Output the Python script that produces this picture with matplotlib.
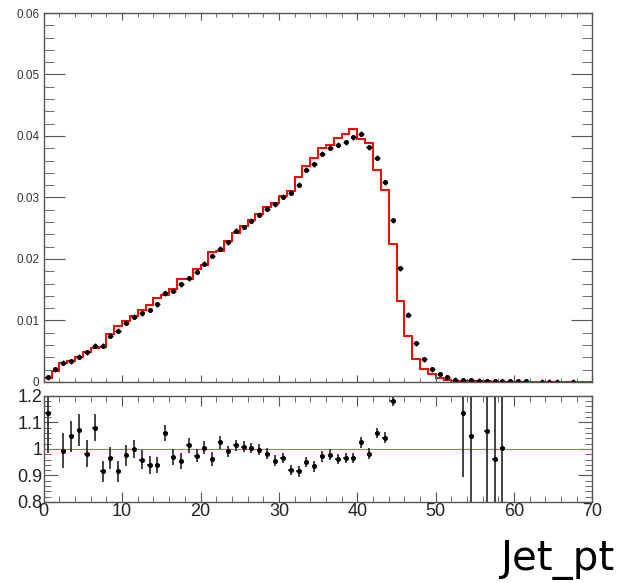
import numpy as np
import matplotlib
matplotlib.use('Agg')
import matplotlib.pyplot as plt
import matplotlib.ticker as mticker

nan = np.nan

# bin edges of Jet_pt (1 GeV bins from 0 to 70)
edges = np.arange(0, 71, 1)
centers = edges[:-1] + 0.5

# simulation histogram (red)
mc = [0.0007, 0.0018, 0.0031, 0.0034, 0.0040, 0.0048, 0.0055, 0.0057, 0.0078, 0.0091,
      0.0099, 0.0107, 0.0117, 0.0125, 0.0136, 0.0142, 0.0152, 0.0167, 0.0167, 0.0183,
      0.0190, 0.0212, 0.0213, 0.0229, 0.0242, 0.0253, 0.0263, 0.0273, 0.0284, 0.0291,
      0.0302, 0.0311, 0.0334, 0.0351, 0.0365, 0.0380, 0.0385, 0.0396, 0.0403, 0.0411,
      0.0395, 0.0388, 0.0345, 0.0312, 0.0224, 0.0131, 0.0074, 0.0037, 0.0021, 0.0013,
      0.0006, 0.0003, 0.0002, 0.0002, 0.0001, 0.0001, 0.0001, 0.00005, 0.00005, 0.00003,
      0.0, 0.0, 0.0, 0.0, 0.0, 0.0, 0.0, 0.0, 0.0, 0.0]

# data points (black)
data = [0.00076, 0.0021, 0.0031, 0.0034, 0.0041, 0.0048, 0.0059, 0.0059, 0.0075, 0.0083,
        0.0096, 0.0106, 0.0112, 0.0117, 0.0126, 0.0144, 0.0148, 0.0159, 0.0169, 0.0179,
        0.0192, 0.0205, 0.0217, 0.0227, 0.0246, 0.0252, 0.0262, 0.0272, 0.0282, 0.0289,
        0.0301, 0.0308, 0.0321, 0.0345, 0.0354, 0.0371, 0.0381, 0.0386, 0.0390, 0.0398,
        0.0404, 0.0382, 0.0365, 0.0325, 0.0263, 0.0185, 0.0109, 0.0063, 0.0037, 0.0021,
        0.0013, 0.0008, 0.0004, 0.0003, 0.0003, 0.0002, 0.0001, 0.0001, 0.0001, 0.0001,
        0.0001, 0.0001, nan, 0.00005, 0.00005, 0.00005, nan, 0.00005, nan, nan]
data_err = 0.0004

# ratio panel
ratio = [1.135, nan, 0.994, 1.047, 1.07, 0.982, 1.08, 0.915, 0.966, 0.915,
         0.976, 1.0, 0.96, 0.94, 0.94, 1.06, 0.97, 0.956, 1.013, 0.975,
         1.004, 0.962, 1.025, 0.991, 1.013, 1.008, 1.003, 0.997, 0.982, 0.956,
         0.965, 0.92, 0.915, 0.95, 0.934, 0.972, 0.978, 0.962, 0.966, 0.966,
         1.025, 0.982, 1.06, 1.042, 1.18, nan, nan, nan, nan, nan,
         nan, nan, nan, 1.137, 1.048, nan, 1.067, 0.962, 1.004, nan,
         nan, nan, nan, nan, nan, nan, nan, nan, nan, nan]
ratio_err = [0.15, nan, 0.065, 0.06, 0.06, 0.05, 0.05, 0.04, 0.04, 0.04,
             0.04, 0.035, 0.035, 0.035, 0.03, 0.03, 0.03, 0.03, 0.03, 0.025,
             0.025, 0.025, 0.025, 0.02, 0.02, 0.02, 0.02, 0.02, 0.02, 0.02,
             0.02, 0.02, 0.02, 0.02, 0.02, 0.02, 0.02, 0.02, 0.02, 0.02,
             0.02, 0.02, 0.02, 0.02, 0.02, nan, nan, nan, nan, nan,
             nan, nan, nan, 0.244, 0.6, nan, 0.6, 0.6, 0.6, nan,
             nan, nan, nan, nan, nan, nan, nan, nan, nan, nan]

plt.rcParams['font.family'] = ['Liberation Sans', 'DejaVu Sans']
frame_col = '#555555'

fig = plt.figure(figsize=(6.21, 5.83), dpi=100)
ax1 = fig.add_axes([0.0704, 0.3448, 0.8837, 0.6329])
ax2 = fig.add_axes([0.0704, 0.139, 0.8837, 0.182])

#%% upper pad
ax1.stairs(mc, edges, color='red', lw=1.4)
ax1.errorbar(centers, data, xerr=0.35, yerr=data_err, fmt='o', ms=2.6,
             color='black', ecolor='black', elinewidth=1.0, capsize=0)
ax1.set_xlim(0, 70)
ax1.set_ylim(0, 0.06)
ax1.xaxis.set_major_locator(mticker.MultipleLocator(10))
ax1.xaxis.set_minor_locator(mticker.MultipleLocator(2))
ax1.yaxis.set_major_locator(mticker.MultipleLocator(0.01))
ax1.yaxis.set_minor_locator(mticker.MultipleLocator(0.002))
ax1.yaxis.set_major_formatter(mticker.FuncFormatter(lambda v, p: '0' if abs(v) < 1e-9 else '%.2f' % v))
ax1.tick_params(which='both', direction='in', top=True, right=True, color=frame_col,
                labelbottom=False, labelsize=8.5, labelcolor='#333333', pad=3)
ax1.tick_params(axis='y', which='major', length=15)
ax1.tick_params(axis='y', which='minor', length=7)
ax1.tick_params(axis='x', which='major', length=5)
ax1.tick_params(axis='x', which='minor', length=3)

#%% ratio pad
ax2.axhline(1.0, color='#ee5555', lw=0.8)
ax2.errorbar(centers, ratio, xerr=0.3, yerr=ratio_err, fmt='o', ms=2.6,
             color='black', ecolor='#222222', elinewidth=1.2, capsize=0)
ax2.set_xlim(0, 70)
ax2.set_ylim(0.8, 1.2)
ax2.xaxis.set_major_locator(mticker.MultipleLocator(10))
ax2.xaxis.set_minor_locator(mticker.MultipleLocator(2))
ax2.yaxis.set_major_locator(mticker.MultipleLocator(0.1))
ax2.yaxis.set_minor_locator(mticker.MultipleLocator(0.02))
ax2.yaxis.set_major_formatter(mticker.FuncFormatter(lambda v, p: '%g' % round(v, 2)))
ax2.tick_params(which='both', direction='in', top=True, right=True, color=frame_col,
                labelsize=13, labelcolor='#222222', pad=1)
ax2.tick_params(axis='y', which='major', length=10)
ax2.tick_params(axis='y', which='minor', length=5)
ax2.tick_params(axis='x', which='major', length=7)
ax2.tick_params(axis='x', which='minor', length=4)

for ax in (ax1, ax2):
    for s in ax.spines.values():
        s.set_color(frame_col)
        s.set_linewidth(1.0)

fig.text(0.99, 0.022, 'Jet_pt', ha='right', va='baseline', fontsize=29,
         family='DejaVu Sans')

fig.savefig('out.png', dpi=100)
